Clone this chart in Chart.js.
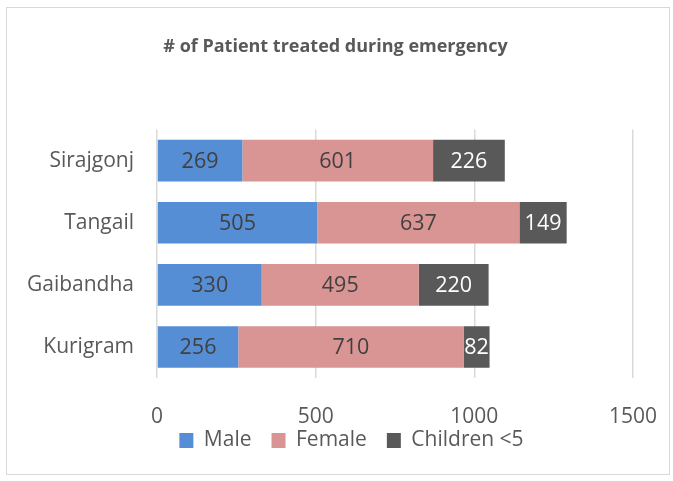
<!DOCTYPE html>
<html><head><meta charset="utf-8">
<script src="https://cdn.jsdelivr.net/npm/chart.js@4"></script>
<style>html,body{margin:0;padding:0;background:#fff}#w{width:673px;height:481px;position:relative}</style>
</head><body><div id="w"><canvas id="c"></canvas></div>
<script>
const categories = ["Sirajgonj", "Tangail", "Gaibandha", "Kurigram"];
const male = [269, 505, 330, 256];
const female = [601, 637, 495, 710];
const children = [226, 149, 220, 82];
const seriesNames = ["Male", "Female", "Children <5"];
const xTicks = [0, 500, 1000, 1500];

const FONT = "'Open Sans', 'Noto Sans', sans-serif";

const framePlugin = {
  id: 'frame',
  beforeDraw(chart) {
    const ctx = chart.ctx;
    ctx.save();
    ctx.fillStyle = '#fff';
    ctx.fillRect(0, 0, chart.width, chart.height);
    ctx.strokeStyle = '#d9d9d9';
    ctx.lineWidth = 1;
    ctx.strokeRect(6.5, 7.5, 663, 467);
    ctx.restore();
  },
  afterLayout(chart) {
    const L = chart.legend;
    if (L) { L.top -= 18; L.bottom -= 18; L.left += 30; L.right += 30; }
    const T = chart.titleBlock;
    if (T) { T.left += 14; T.right += 14; }
  }
};

const labelPlugin = {
  id: 'barLabels',
  afterDatasetsDraw(chart) {
    const ctx = chart.ctx;
    ctx.save();
    ctx.font = "21.5px " + FONT;
    ctx.textAlign = 'center';
    ctx.textBaseline = 'middle';
    chart.data.datasets.forEach((ds, di) => {
      const meta = chart.getDatasetMeta(di);
      meta.data.forEach((bar, i) => {
        const cx = (bar.x + bar.base) / 2;
        ctx.fillStyle = ds.labelColor;
        ctx.fillText(String(ds.data[i]), cx, bar.y + 1);
      });
    });
    ctx.restore();
  }
};

new Chart(document.getElementById('c'), {
  type: 'bar',
  data: {
    labels: categories,
    datasets: [
      { label: seriesNames[0], data: male, backgroundColor: '#558ed5', labelColor: '#404040' },
      { label: seriesNames[1], data: female, backgroundColor: '#d99594', labelColor: '#404040' },
      { label: seriesNames[2], data: children, backgroundColor: '#595959', labelColor: '#ffffff' }
    ]
  },
  options: {
    indexAxis: 'y',
    responsive: true,
    maintainAspectRatio: false,
    animation: false,
    layout: { padding: { left: 10, right: 40, top: 0, bottom: 2 } },
    datasets: { bar: { categoryPercentage: 0.67, barPercentage: 1.0 } },
    scales: {
      x: {
        stacked: true,
        min: 0, max: 1500,
        afterBuildTicks(axis) { axis.ticks = xTicks.map(v => ({ value: v })); },
        grid: { color: '#d9d9d9', lineWidth: 1.5, drawTicks: false },
        border: { display: false },
        ticks: { color: '#595959', font: { family: FONT, size: 21 }, padding: 26,
                 callback: (v) => String(v) },
        afterFit(axis) { axis.height = 50; axis.paddingRight = 0; axis.paddingLeft = 0; }
      },
      y: {
        stacked: true,
        grid: { display: false, drawTicks: false },
        border: { display: false },
        ticks: { color: '#595959', font: { family: FONT, size: 21 }, padding: 23 },
        afterFit(axis) { axis.width = 147; }
      }
    },
    plugins: {
      title: {
        display: true,
        text: '# of Patient treated during emergency',
        color: '#595959',
        font: { family: FONT, size: 18, weight: 'bold' },
        padding: { top: 36, bottom: 72 }
      },
      legend: {
        position: 'bottom',
        labels: {
          color: '#595959',
          font: { family: FONT, size: 21 },
          boxWidth: 14, boxHeight: 15, padding: 20
        }
      },
      tooltip: { enabled: false }
    }
  },
  plugins: [framePlugin, labelPlugin]
});
</script>
</body></html>
